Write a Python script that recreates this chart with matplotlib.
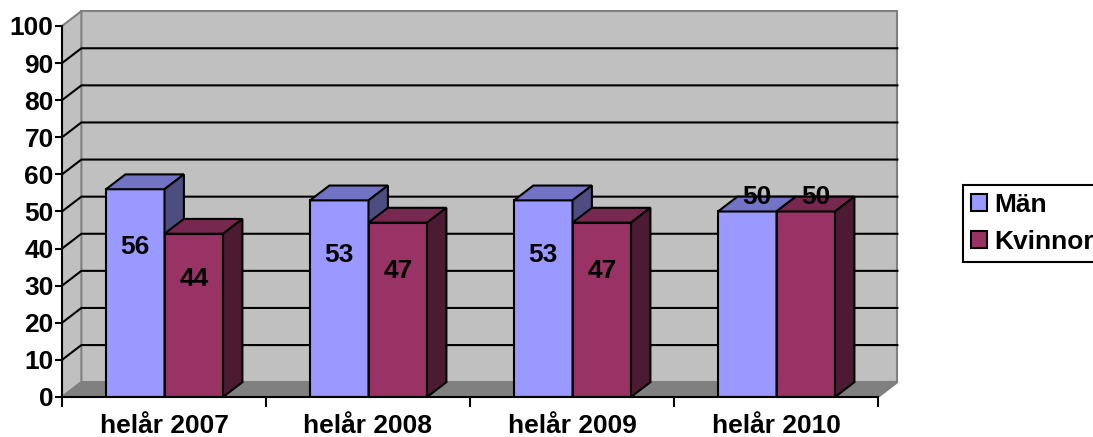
import matplotlib
matplotlib.use('Agg')
import matplotlib.pyplot as plt
from matplotlib.patches import Polygon, Rectangle

plt.rcParams['font.family'] = ['Liberation Sans', 'DejaVu Sans']
plt.rcParams['font.weight'] = 'bold'

categories = ['helår 2007', 'helår 2008', 'helår 2009', 'helår 2010']
series_names = ['Män', 'Kvinnor']
man = [56, 53, 53, 50]
kvinnor = [44, 47, 47, 50]
yticks = list(range(0, 101, 10))

# styling
front = ['#9999FF', '#993366']
top = ['#7373C6', '#77284F']
side = ['#4D4D80', '#4D1A33']
wall = '#C0C0C0'
floor = '#808080'
DX, DY = 0.095, 4.0        # fake 3d depth (category units, value units)
bar_off, bar_w = 0.2157, 0.2868
label_on_top = [False, False, False, True]
fs = 19

fig = plt.figure(figsize=(10.93, 4.37), dpi=100)
ax = fig.add_axes([62 / 1093, 40 / 437, (905 - 62) / 1093, (397 - 5) / 437])
ax.set_xlim(0, (905 - 62) / 204)
ax.set_ylim(0, (397 - 5) / 3.71)
ax.patch.set_visible(False)

# walls and floor
ax.add_patch(Polygon([(DX, DY), (4 + DX, DY), (4 + DX, 100 + DY), (DX, 100 + DY)],
                     closed=True, fc=wall, ec='#808080', lw=1.5, zorder=1))
ax.add_patch(Polygon([(0, 0), (DX, DY), (DX, 100 + DY), (0, 100)],
                     closed=True, fc=wall, ec='#808080', lw=1.5, zorder=1))
ax.add_patch(Polygon([(0, 0), (4, 0), (4 + DX, DY), (DX, DY)],
                     closed=True, fc=floor, ec='#808080', lw=1.5, zorder=1))
for v in yticks[1:-1]:
    ax.plot([0, DX, 4 + DX], [v, v + DY, v + DY], color='black', lw=1.5, zorder=2)

# bars
for i in range(len(categories)):
    for j, vals in enumerate([man, kvinnor]):
        v = vals[i]
        x0 = i + bar_off + j * bar_w
        x1 = x0 + bar_w
        ax.add_patch(Rectangle((x0, 0), bar_w, v, fc=front[j], ec='black', lw=1.5, zorder=3))
        ax.add_patch(Polygon([(x0, v), (x1, v), (x1 + DX, v + DY), (x0 + DX, v + DY)],
                             closed=True, fc=top[j], ec='black', lw=1.5, zorder=3))
        ax.add_patch(Polygon([(x1, 0), (x1 + DX, DY), (x1 + DX, v + DY), (x1, v)],
                             closed=True, fc=side[j], ec='black', lw=1.5, zorder=3))
        if label_on_top[i]:
            ax.text((x0 + x1) / 2 + DX / 2, v + DY, str(v), ha='center', va='center',
                    fontsize=fs, fontweight='bold', zorder=5)
        else:
            ax.text((x0 + x1) / 2, v * 0.72, str(v), ha='center', va='center',
                    fontsize=fs, fontweight='bold', zorder=5)

# axes
for s in ['top', 'right']:
    ax.spines[s].set_visible(False)
ax.spines['left'].set_bounds(0, 100)
ax.spines['bottom'].set_bounds(0, 4)
ax.spines['left'].set_linewidth(1.5)
ax.spines['bottom'].set_linewidth(1.5)
ax.spines['left'].set_zorder(4)
ax.spines['bottom'].set_zorder(4)
ax.set_yticks(yticks)
ax.set_yticklabels([str(t) for t in yticks], fontsize=fs, fontweight='bold')
ax.tick_params(axis='y', length=5, width=1.5, pad=1)
ax.set_xticks(range(len(categories) + 1))
ax.set_xticklabels([])
ax.set_xticks([i + 0.5 for i in range(len(categories))], minor=True)
ax.set_xticklabels(categories, minor=True, fontsize=fs, fontweight='bold')
ax.tick_params(axis='x', which='major', length=7, width=1.5)
ax.tick_params(axis='x', which='minor', length=0, pad=12)

handles = [Rectangle((0, 0), 1, 1, fc=front[k], ec='black', lw=1.5) for k in range(2)]
leg = fig.legend(handles, series_names, loc='upper left', bbox_to_anchor=(963 / 1093, 252 / 437),
                 borderaxespad=0, fancybox=False, framealpha=1, edgecolor='black',
                 prop={'size': fs, 'weight': 'bold'}, handlelength=0.6, handleheight=0.6,
                 handletextpad=0.3, labelspacing=0.5, borderpad=0.3)
leg.get_frame().set_linewidth(1.5)

fig.savefig('out.png', dpi=100)
